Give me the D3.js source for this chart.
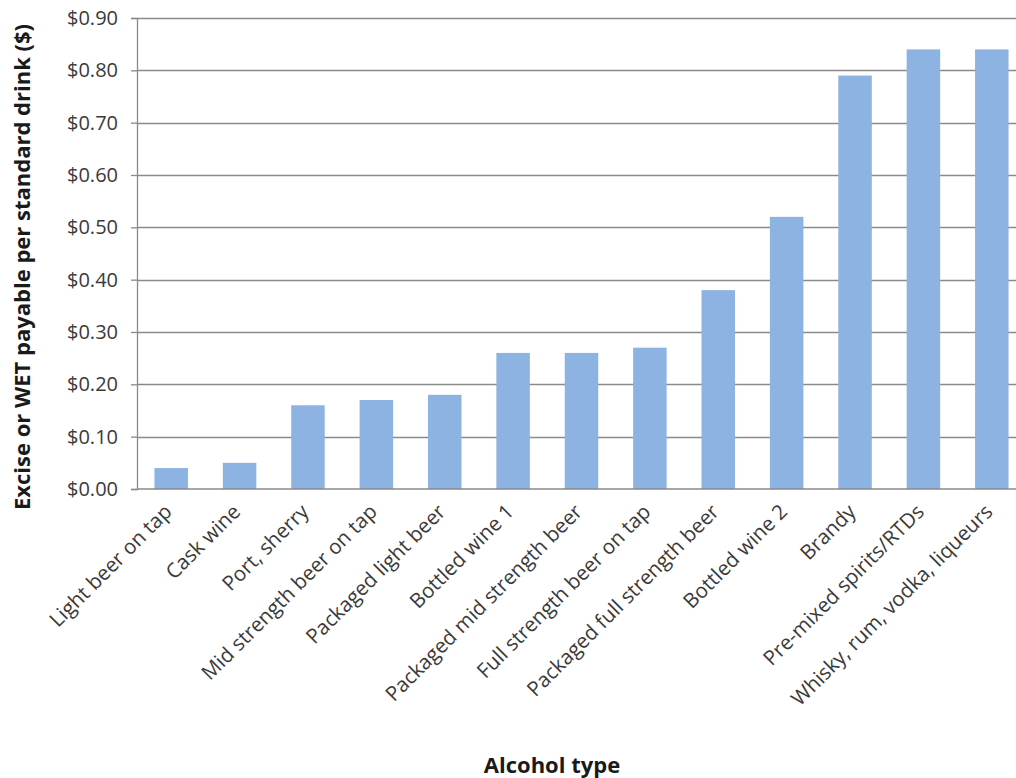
<!DOCTYPE html>
<html>
<head>
<meta charset="utf-8">
<script src="https://cdn.jsdelivr.net/npm/d3@7"></script>
<style>
  html, body { margin: 0; padding: 0; background: #fff; }
  svg { display: block; }
</style>
</head>
<body>
<svg id="chart" width="1016" height="778"></svg>
<script>
const categories = [
  "Light beer on tap", "Cask wine", "Port, sherry", "Mid strength beer on tap",
  "Packaged light beer", "Bottled wine 1", "Packaged mid strength beer",
  "Full strength beer on tap", "Packaged full strength beer", "Bottled wine 2",
  "Brandy", "Pre-mixed spirits/RTDs", "Whisky, rum, vodka, liqueurs"
];
const values = [0.04, 0.05, 0.16, 0.17, 0.18, 0.26, 0.26, 0.27, 0.38, 0.52, 0.79, 0.84, 0.84];
const yTicks = [0, 0.1, 0.2, 0.3, 0.4, 0.5, 0.6, 0.7, 0.8, 0.9];
const yTitle = "Excise or WET payable per standard drink ($)";
const xTitle = "Alcohol type";

const svg = d3.select("#chart");
const W = 1016, H = 778;
const m = { left: 137, top: 18, right: -10, bottom: 289 };
const x = d3.scaleBand().domain(categories).range([m.left, W - m.right]).paddingInner(0.51).paddingOuter(0.255);
const y = d3.scaleLinear().domain([0, 0.9]).range([H - m.bottom, m.top]);
const font = "'Open Sans', sans-serif";
const gridColor = "#8a8a8a";

// gridlines
svg.append("g").selectAll("line").data(yTicks.filter(d => d > 0)).join("line")
  .attr("x1", m.left).attr("x2", W - m.right)
  .attr("y1", d => Math.round(y(d)) + 0.5).attr("y2", d => Math.round(y(d)) + 0.5)
  .attr("stroke", gridColor).attr("stroke-width", 1.3);

// bars
svg.append("g").selectAll("rect").data(values).join("rect")
  .attr("x", (d, i) => x(categories[i]))
  .attr("width", x.bandwidth())
  .attr("y", d => y(d))
  .attr("height", d => y(0) - y(d))
  .attr("fill", "#8db3e2");

// y axis
const yAxis = d3.axisLeft(y).tickValues(yTicks).tickFormat(d => "$" + d3.format(".2f")(d)).tickSize(6).tickPadding(13);
const gy = svg.append("g").attr("transform", `translate(${m.left},0)`).call(yAxis);
gy.select(".domain").attr("stroke", gridColor).attr("stroke-width", 1.3);
gy.selectAll(".tick line").attr("stroke", gridColor).attr("stroke-width", 1.3);
gy.selectAll(".tick text").attr("font-family", font).attr("font-size", 20).attr("fill", "#3a3a3a");

// x axis line
svg.append("line").attr("x1", m.left).attr("x2", W - m.right)
  .attr("y1", y(0)).attr("y2", y(0)).attr("stroke", gridColor).attr("stroke-width", 1.6);

// x labels
svg.append("g").selectAll("text").data(categories).join("text")
  .attr("transform", d => `translate(${x(d) + x.bandwidth() / 2 + 2},${y(0) + 24}) rotate(-45)`)
  .attr("text-anchor", "end")
  .attr("font-family", font).attr("font-size", 20.5).attr("fill", "#3a3a3a")
  .text(d => d);

// titles
svg.append("text").attr("x", 552).attr("y", 773).attr("text-anchor", "middle")
  .attr("font-family", font).attr("font-weight", "bold").attr("font-size", 22).attr("fill", "#1a1a1a")
  .text(xTitle);
svg.append("text").attr("transform", `translate(30,267) rotate(-90)`).attr("text-anchor", "middle")
  .attr("font-family", font).attr("font-weight", "bold").attr("font-size", 22).attr("fill", "#1a1a1a")
  .text(yTitle);
</script>
</body>
</html>
